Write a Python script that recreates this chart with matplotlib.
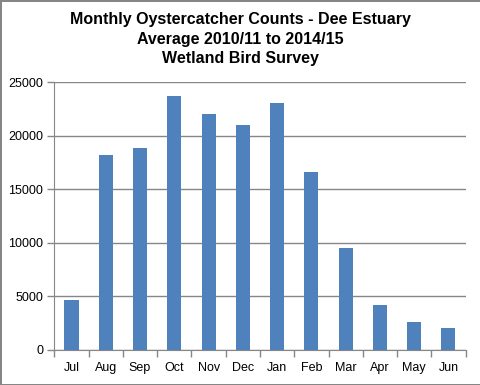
import matplotlib
matplotlib.use('Agg')
import matplotlib.pyplot as plt
import numpy as np

months = ['Jul', 'Aug', 'Sep', 'Oct', 'Nov', 'Dec', 'Jan', 'Feb', 'Mar', 'Apr', 'May', 'Jun']
counts = [4670, 18210, 18860, 23720, 22040, 21010, 23070, 16620, 9530, 4200, 2620, 2060]
yticks = [0, 5000, 10000, 15000, 20000, 25000]

plt.rcParams['font.family'] = ['Liberation Sans', 'DejaVu Sans']

fig = plt.figure(figsize=(4.81, 3.85), dpi=100)
fig.patch.set_edgecolor('#868686')
fig.patch.set_linewidth(2)
ax = fig.add_axes([0.113, 0.091, 0.855, 0.695])

x = np.arange(len(months))
ax.bar(x, counts, width=0.41, color='#4F81BD', zorder=3)

ax.set_xlim(-0.5, len(months) - 0.5)
ax.set_ylim(0, 25000)
ax.set_yticks(yticks)
ax.set_yticklabels([str(v) for v in yticks], fontsize=9)
ax.set_xticks(x)
ax.set_xticklabels(months, fontsize=9)
ax.tick_params(axis='x', length=0, pad=9)
ax.set_xticks(np.arange(len(months) + 1) - 0.5, minor=True)
ax.tick_params(axis='x', which='minor', length=5, color='#868686', width=1)
ax.tick_params(axis='y', length=5, color='#868686', width=1, pad=3)

ax.grid(axis='y', color='#868686', linewidth=1, zorder=0)
for s in ['top', 'right']:
    ax.spines[s].set_visible(False)
ax.spines['left'].set_color('#868686')
ax.spines['bottom'].set_color('#868686')

fig.text(0.5, 0.968, 'Monthly Oystercatcher Counts - Dee Estuary\nAverage 2010/11 to 2014/15\nWetland Bird Survey',
         ha='center', va='top', fontsize=11.5, fontweight='bold', linespacing=1.35)

fig.savefig('out.png', dpi=100)
